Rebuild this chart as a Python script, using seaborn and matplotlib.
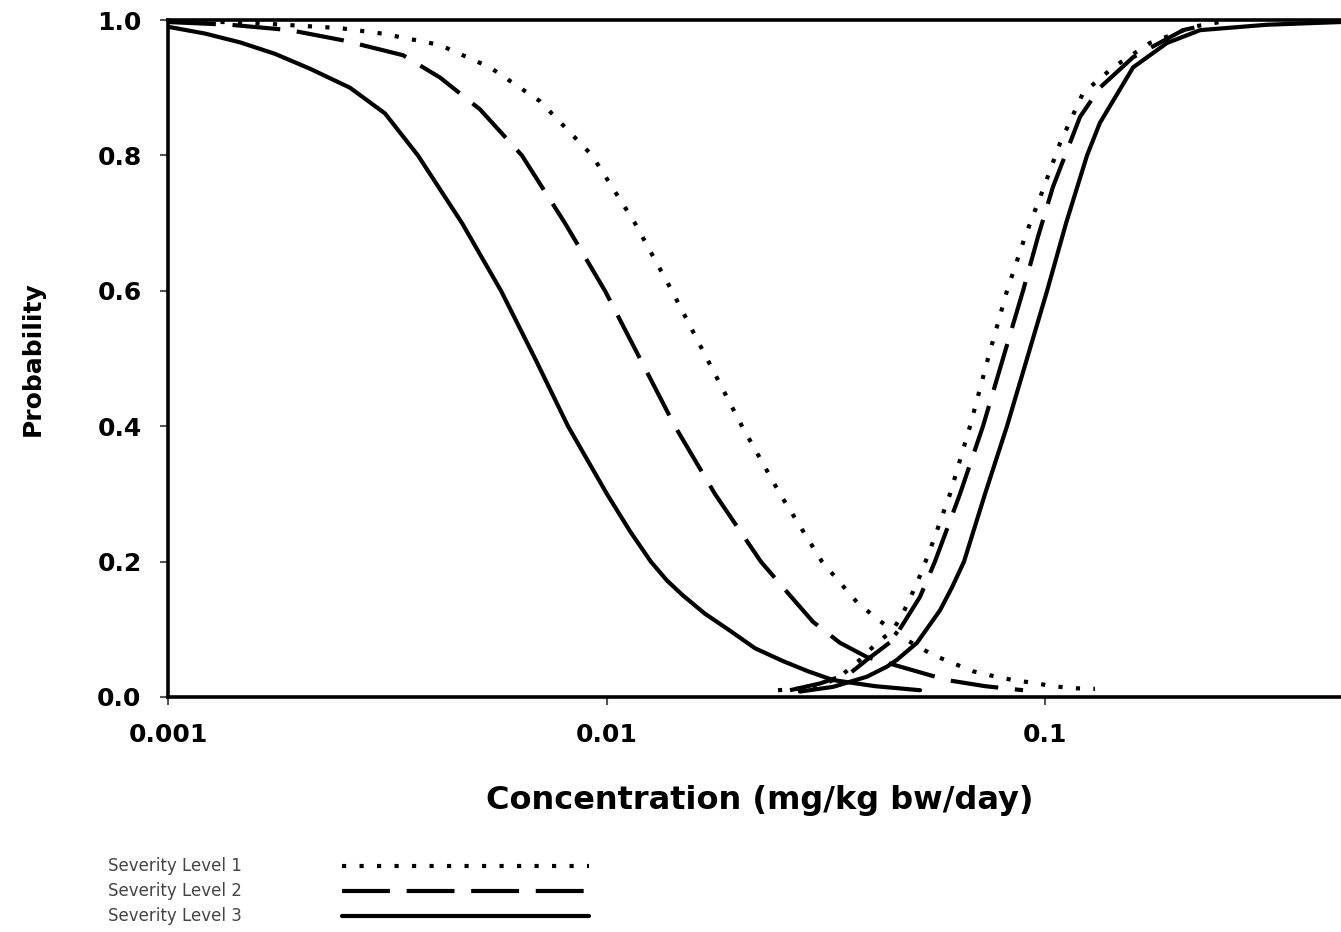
import matplotlib
matplotlib.use("Agg")
import matplotlib.pyplot as plt
import seaborn as sns
import pandas as pd
from matplotlib.lines import Line2D

# ---------------- data ----------------
# Severity Level 1 (dotted) - decreasing branch
lvl1_dec_x = [0.001, 0.001538, 0.002467, 0.003076, 0.003756, 0.004172, 0.005424, 0.007053,
              0.00927, 0.01161, 0.01410, 0.01694, 0.02037, 0.02487, 0.03100, 0.03725,
              0.04094, 0.04667, 0.05554, 0.06170, 0.06853, 0.07610, 0.0845, 0.0939,
              0.1042, 0.1158, 0.1300]
lvl1_dec_y = [0.999, 0.996, 0.988, 0.980, 0.969, 0.963, 0.93, 0.88,
              0.80, 0.70, 0.60, 0.50, 0.40, 0.30, 0.20, 0.14,
              0.118, 0.09, 0.062, 0.05, 0.038, 0.031, 0.025, 0.021,
              0.016, 0.013, 0.012]
# Severity Level 1 (dotted) - increasing branch
lvl1_inc_x = [0.02461, 0.0302, 0.03408, 0.03784, 0.04094, 0.0450, 0.04746, 0.05105,
              0.05467, 0.06073, 0.06745, 0.07413, 0.0819, 0.09004, 0.0989, 0.1082,
              0.1221, 0.1429, 0.1734, 0.2175, 0.2506]
lvl1_inc_y = [0.010, 0.014, 0.03, 0.055, 0.077, 0.099, 0.124, 0.168,
              0.217, 0.30, 0.40, 0.50, 0.60, 0.68, 0.749, 0.818,
              0.892, 0.93, 0.966, 0.99, 0.997]

# Severity Level 2 (dashed) - decreasing branch
lvl2_dec_x = [0.001, 0.001385, 0.001897, 0.002506, 0.003435, 0.004172, 0.005147, 0.006412,
              0.00804, 0.00992, 0.01192, 0.01432, 0.01767, 0.02249, 0.02621, 0.02958,
              0.03408, 0.03926, 0.04667, 0.05977, 0.07298, 0.0891]
lvl2_dec_y = [0.997, 0.993, 0.985, 0.970, 0.948, 0.915, 0.868, 0.80,
              0.70, 0.60, 0.50, 0.40, 0.30, 0.20, 0.15, 0.111,
              0.08, 0.059, 0.045, 0.025, 0.016, 0.010]
# Severity Level 2 (dashed) - increasing branch
lvl2_inc_x = [0.02621, 0.03068, 0.0359, 0.03926, 0.0450, 0.05188, 0.0561, 0.0640,
              0.0722, 0.0802, 0.0891, 0.0964, 0.1042, 0.1202, 0.1334, 0.1588,
              0.2064, 0.2339]
lvl2_inc_y = [0.010, 0.02, 0.035, 0.055, 0.084, 0.148, 0.20, 0.30,
              0.40, 0.50, 0.60, 0.68, 0.753, 0.857, 0.90, 0.945,
              0.985, 0.993]

# Severity Level 3 (solid) - decreasing branch
lvl3_dec_x = [0.001, 0.001214, 0.001459, 0.001754, 0.002108, 0.002600, 0.003125, 0.003715,
              0.004683, 0.005747, 0.006871, 0.008170, 0.01002, 0.01131, 0.01262, 0.01374,
              0.01494, 0.01677, 0.01912, 0.02181, 0.02527, 0.02881, 0.03287, 0.04096,
              0.05190]
lvl3_dec_y = [0.99, 0.98, 0.967, 0.95, 0.928, 0.90, 0.862, 0.80,
              0.70, 0.60, 0.50, 0.40, 0.30, 0.245, 0.20, 0.172,
              0.150, 0.123, 0.098, 0.072, 0.053, 0.038, 0.025, 0.016,
              0.010]
# Severity Level 3 (solid) - increasing branch
lvl3_inc_x = [0.02761, 0.03287, 0.03926, 0.04365, 0.04597, 0.05105, 0.05761, 0.06137,
              0.06535, 0.07298, 0.0819, 0.0910, 0.1011, 0.1117, 0.1247, 0.1334,
              0.1588, 0.1897, 0.2257, 0.3209, 0.473, 0.50]
lvl3_inc_y = [0.008, 0.015, 0.030, 0.045, 0.055, 0.080, 0.128, 0.162,
              0.20, 0.30, 0.40, 0.50, 0.60, 0.70, 0.80, 0.848,
              0.93, 0.966, 0.985, 0.993, 0.997, 0.997]

series_labels = ["Severity Level 1", "Severity Level 2", "Severity Level 3"]
x_ticks = [0.001, 0.01, 0.1]
x_tick_labels = ["0.001", "0.01", "0.1"]
y_ticks = [0.0, 0.2, 0.4, 0.6, 0.8, 1.0]
y_tick_labels = ["0.0", "0.2", "0.4", "0.6", "0.8", "1.0"]

# ---------------- styling ----------------
sns.set_theme(style="white")
plt.rcParams["font.family"] = ["DejaVu Sans"]

LW = 3.0
styles = {
    "Severity Level 1": (0, (1.0, 3.2)),
    "Severity Level 2": (0, (11.5, 4.0)),
    "Severity Level 3": "-",
}

W, H = 1341, 932
fig = plt.figure(figsize=(W / 100, H / 100), dpi=100)
ax_left, ax_right_px = 168, 168 + 2.699 * 438.5
ax_top, ax_bot = 20, 697
ax = fig.add_axes([ax_left / W, (H - ax_bot) / H,
                   (ax_right_px - ax_left) / W, (ax_bot - ax_top) / H])

curves = [
    ("Severity Level 1", lvl1_dec_x, lvl1_dec_y),
    ("Severity Level 1", lvl1_inc_x, lvl1_inc_y),
    ("Severity Level 2", lvl2_dec_x, lvl2_dec_y),
    ("Severity Level 2", lvl2_inc_x, lvl2_inc_y),
    ("Severity Level 3", lvl3_dec_x, lvl3_dec_y),
    ("Severity Level 3", lvl3_inc_x, lvl3_inc_y),
]
for lab, xs, ys in curves:
    df = pd.DataFrame({"conc": xs, "prob": ys})
    sns.lineplot(data=df, x="conc", y="prob", ax=ax, color="black",
                 linewidth=LW, estimator=None, sort=True, legend=False)
    line = ax.lines[-1]
    line.set_linestyle(styles[lab])
    line.set_dash_capstyle("butt")
    line.set_solid_joinstyle("round")

ax.set_xscale("log")
ax.set_xlim(0.001, 0.5)
ax.set_ylim(0.0, 1.0)
ax.set_xticks(x_ticks)
ax.set_xticklabels(x_tick_labels)
ax.minorticks_off()
ax.set_yticks(y_ticks)
ax.set_yticklabels(y_tick_labels)

for side in ["left", "bottom", "top"]:
    ax.spines[side].set_visible(True)
    ax.spines[side].set_color("black")
    ax.spines[side].set_linewidth(2.6)
ax.spines["right"].set_visible(False)

ax.tick_params(axis="both", which="major", direction="out", length=6, width=1.5,
               color="#555555", labelsize=18, labelcolor="black", pad=13,
               bottom=True, left=True, top=False, right=False)
for t in ax.get_xticklabels() + ax.get_yticklabels():
    t.set_fontweight("bold")

ax.set_xlabel("Concentration (mg/kg bw/day)", fontsize=23, fontweight="bold",
              color="black")
ax.set_ylabel("Probability", fontsize=18, fontweight="bold", color="black")
ax.xaxis.set_label_coords(0.5, (ax_bot - 800) / (ax_bot - ax_top))
ax.xaxis.label.set_va("center")
ax.yaxis.set_label_coords((33 - ax_left) / (ax_right_px - ax_left), 0.5)
ax.yaxis.label.set_va("center")

handles = [Line2D([0], [0], color="black", linewidth=LW, linestyle=styles[l],
                  dash_capstyle="butt") for l in series_labels]
leg = fig.legend(handles, series_labels, loc="upper left",
                 bbox_to_anchor=(100 / W, 1 - 849 / H), frameon=False,
                 markerfirst=False, fontsize=12, handlelength=14.8,
                 handletextpad=6.0, labelspacing=0.42, borderpad=0.0)
for t in leg.get_texts():
    t.set_color("#444444")

fig.savefig("out.png", dpi=100)
